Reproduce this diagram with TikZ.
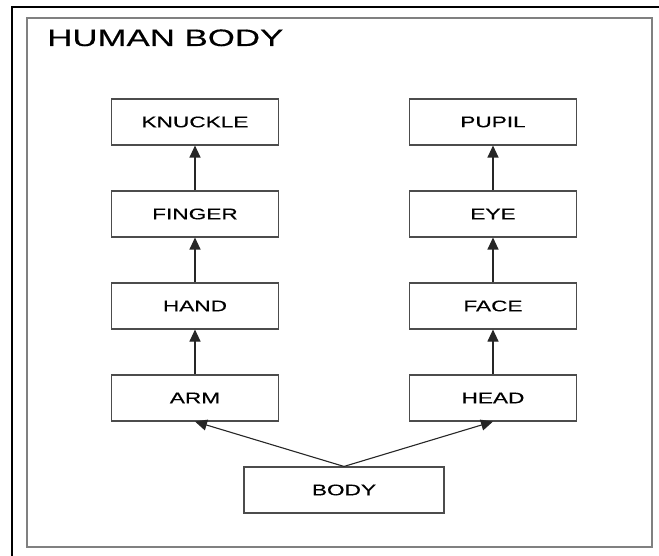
\documentclass[tikz,border=0pt]{standalone}
\usepackage{fontspec}
\setmainfont{Liberation Sans}[FakeStretch=1.47, FakeBold=0.3]
\usetikzlibrary{arrows.meta,positioning}

\begin{document}
\begin{tikzpicture}[x=1pt, y=-1pt,
    part/.style={draw=black!70, line width=1.1pt, minimum width=167pt,
      minimum height=46pt, inner sep=0pt, font=\fontsize{15.4}{18}\selectfont},
    link/.style={draw=black!85, line width=1.1pt, -{Triangle[length=12pt, width=11pt]}}]
    \useasboundingbox (0,0) rectangle (659,556);
    \clip (0,0) rectangle (659,556);

    % frames
    \draw[line width=1.5pt] (12,7) rectangle (700,600);
    \draw[black!50, line width=2pt] (27,18) rectangle (652,547);
    \node[anchor=base west, inner sep=0pt, font=\fontsize{23.7}{28}\selectfont]
      (title) at (47,46) {HUMAN BODY};

    % left column
    \node[part] (knuckle) at (195,122) {KNUCKLE};
    \node[part] (finger) at (195,214) {FINGER};
    \node[part] (hand) at (195,306) {HAND};
    \node[part] (arm) at (195,398) {ARM};

    % right column
    \node[part] (pupil) at (493,122) {PUPIL};
    \node[part] (eye) at (493,214) {EYE};
    \node[part] (face) at (493,306) {FACE};
    \node[part] (head) at (493,398) {HEAD};

    \node[part, minimum width=200pt] (body) at (344,490) {BODY};

    \draw[link] (finger) -- (knuckle);
    \draw[link] (hand) -- (finger);
    \draw[link] (arm) -- (hand);
    \draw[link] (eye) -- (pupil);
    \draw[link] (face) -- (eye);
    \draw[link] (head) -- (face);
    \draw[link] (body.north) -- (arm.south);
    \draw[link] (body.north) -- (head.south);
\end{tikzpicture}
\end{document}
